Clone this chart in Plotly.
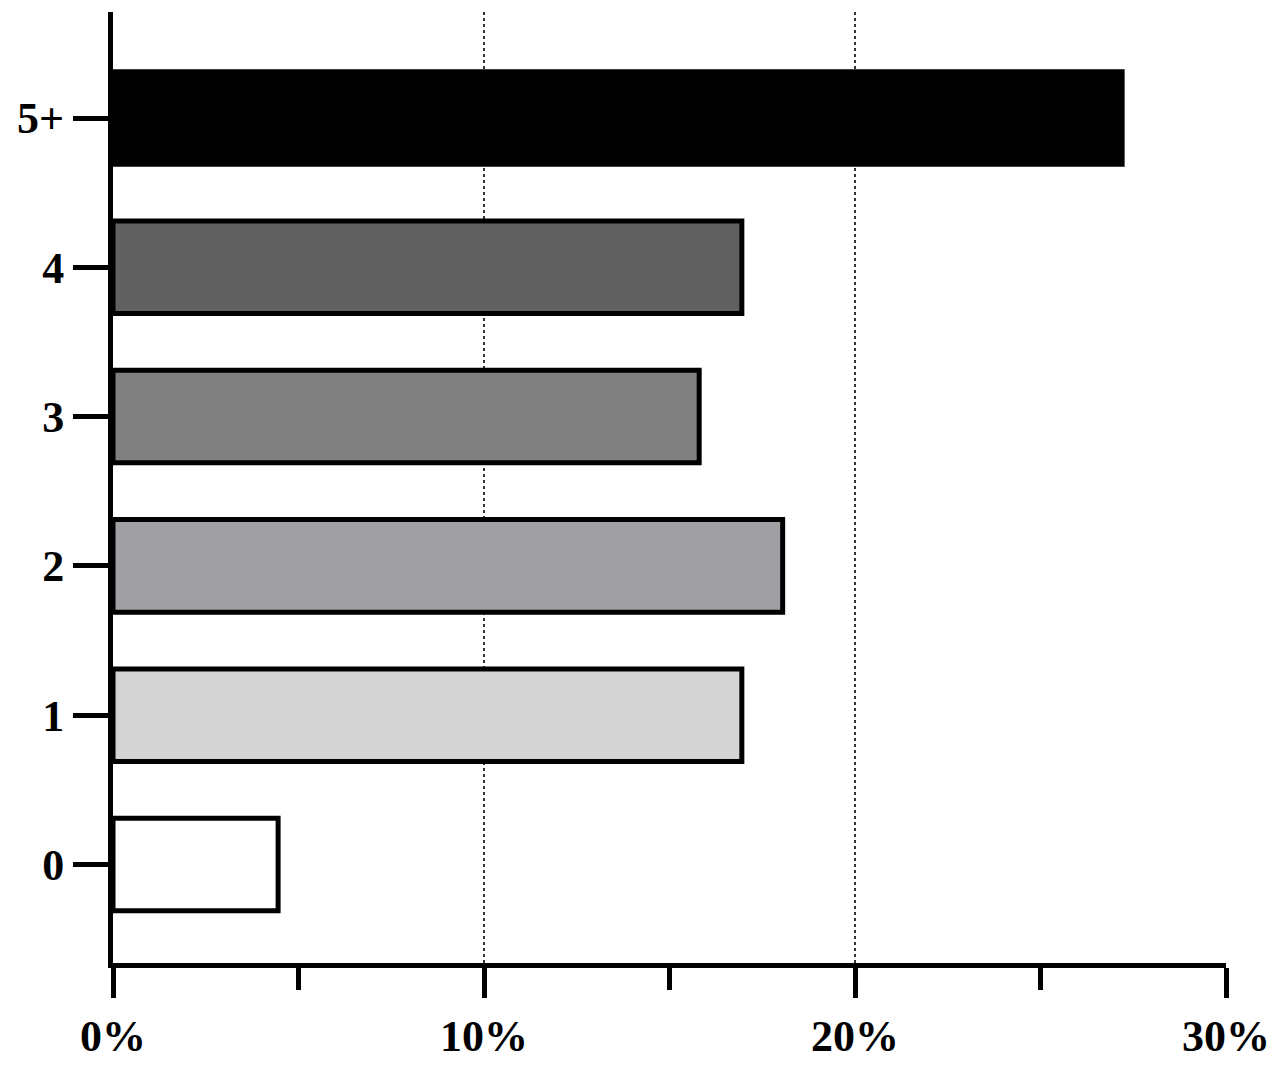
import plotly.graph_objects as go

categories = ["0", "1", "2", "3", "4", "5+"]
values = [4.45, 16.95, 18.05, 15.8, 16.95, 27.2]
colors = ["#ffffff", "#d4d4d4", "#a0a0a4", "#808080", "#606060", "#000000"]
x_ticks = [0, 10, 20, 30]
x_labels = ["<b>0%</b>", "<b>10%</b>", "<b>20%</b>", "<b>30%</b>"]
y_labels = ["<b>%s</b>" % c for c in categories]

fig = go.Figure(go.Bar(
    x=values, y=categories, orientation="h", width=0.62,
    marker=dict(color=colors, line=dict(color="black", width=5)),
))
tf = dict(family="Liberation Serif", size=44, color="black")
fig.update_layout(
    width=1280, height=1092, plot_bgcolor="white", paper_bgcolor="white",
    margin=dict(l=105, r=62, t=4, b=137), showlegend=False,
    xaxis=dict(range=[0, 30], tickvals=x_ticks, ticktext=x_labels,
               showline=True, linecolor="black", linewidth=5,
               ticks="outside", ticklen=30, tickwidth=5, tickcolor="black",
               minor=dict(tickvals=[5, 15, 25], ticks="outside", ticklen=22,
                          tickwidth=5, tickcolor="black"),
               showgrid=True, gridcolor="#333", griddash="dot", gridwidth=2,
               zeroline=False, tickfont=tf),
    yaxis=dict(type="category", range=[-0.66, 5.71], showline=True, linecolor="black",
               tickvals=categories, ticktext=y_labels,
               linewidth=5, ticks="outside", ticklen=35, tickwidth=5, tickcolor="black",
               showgrid=False, zeroline=False, tickfont=tf),
)
fig.write_html("out.html")
